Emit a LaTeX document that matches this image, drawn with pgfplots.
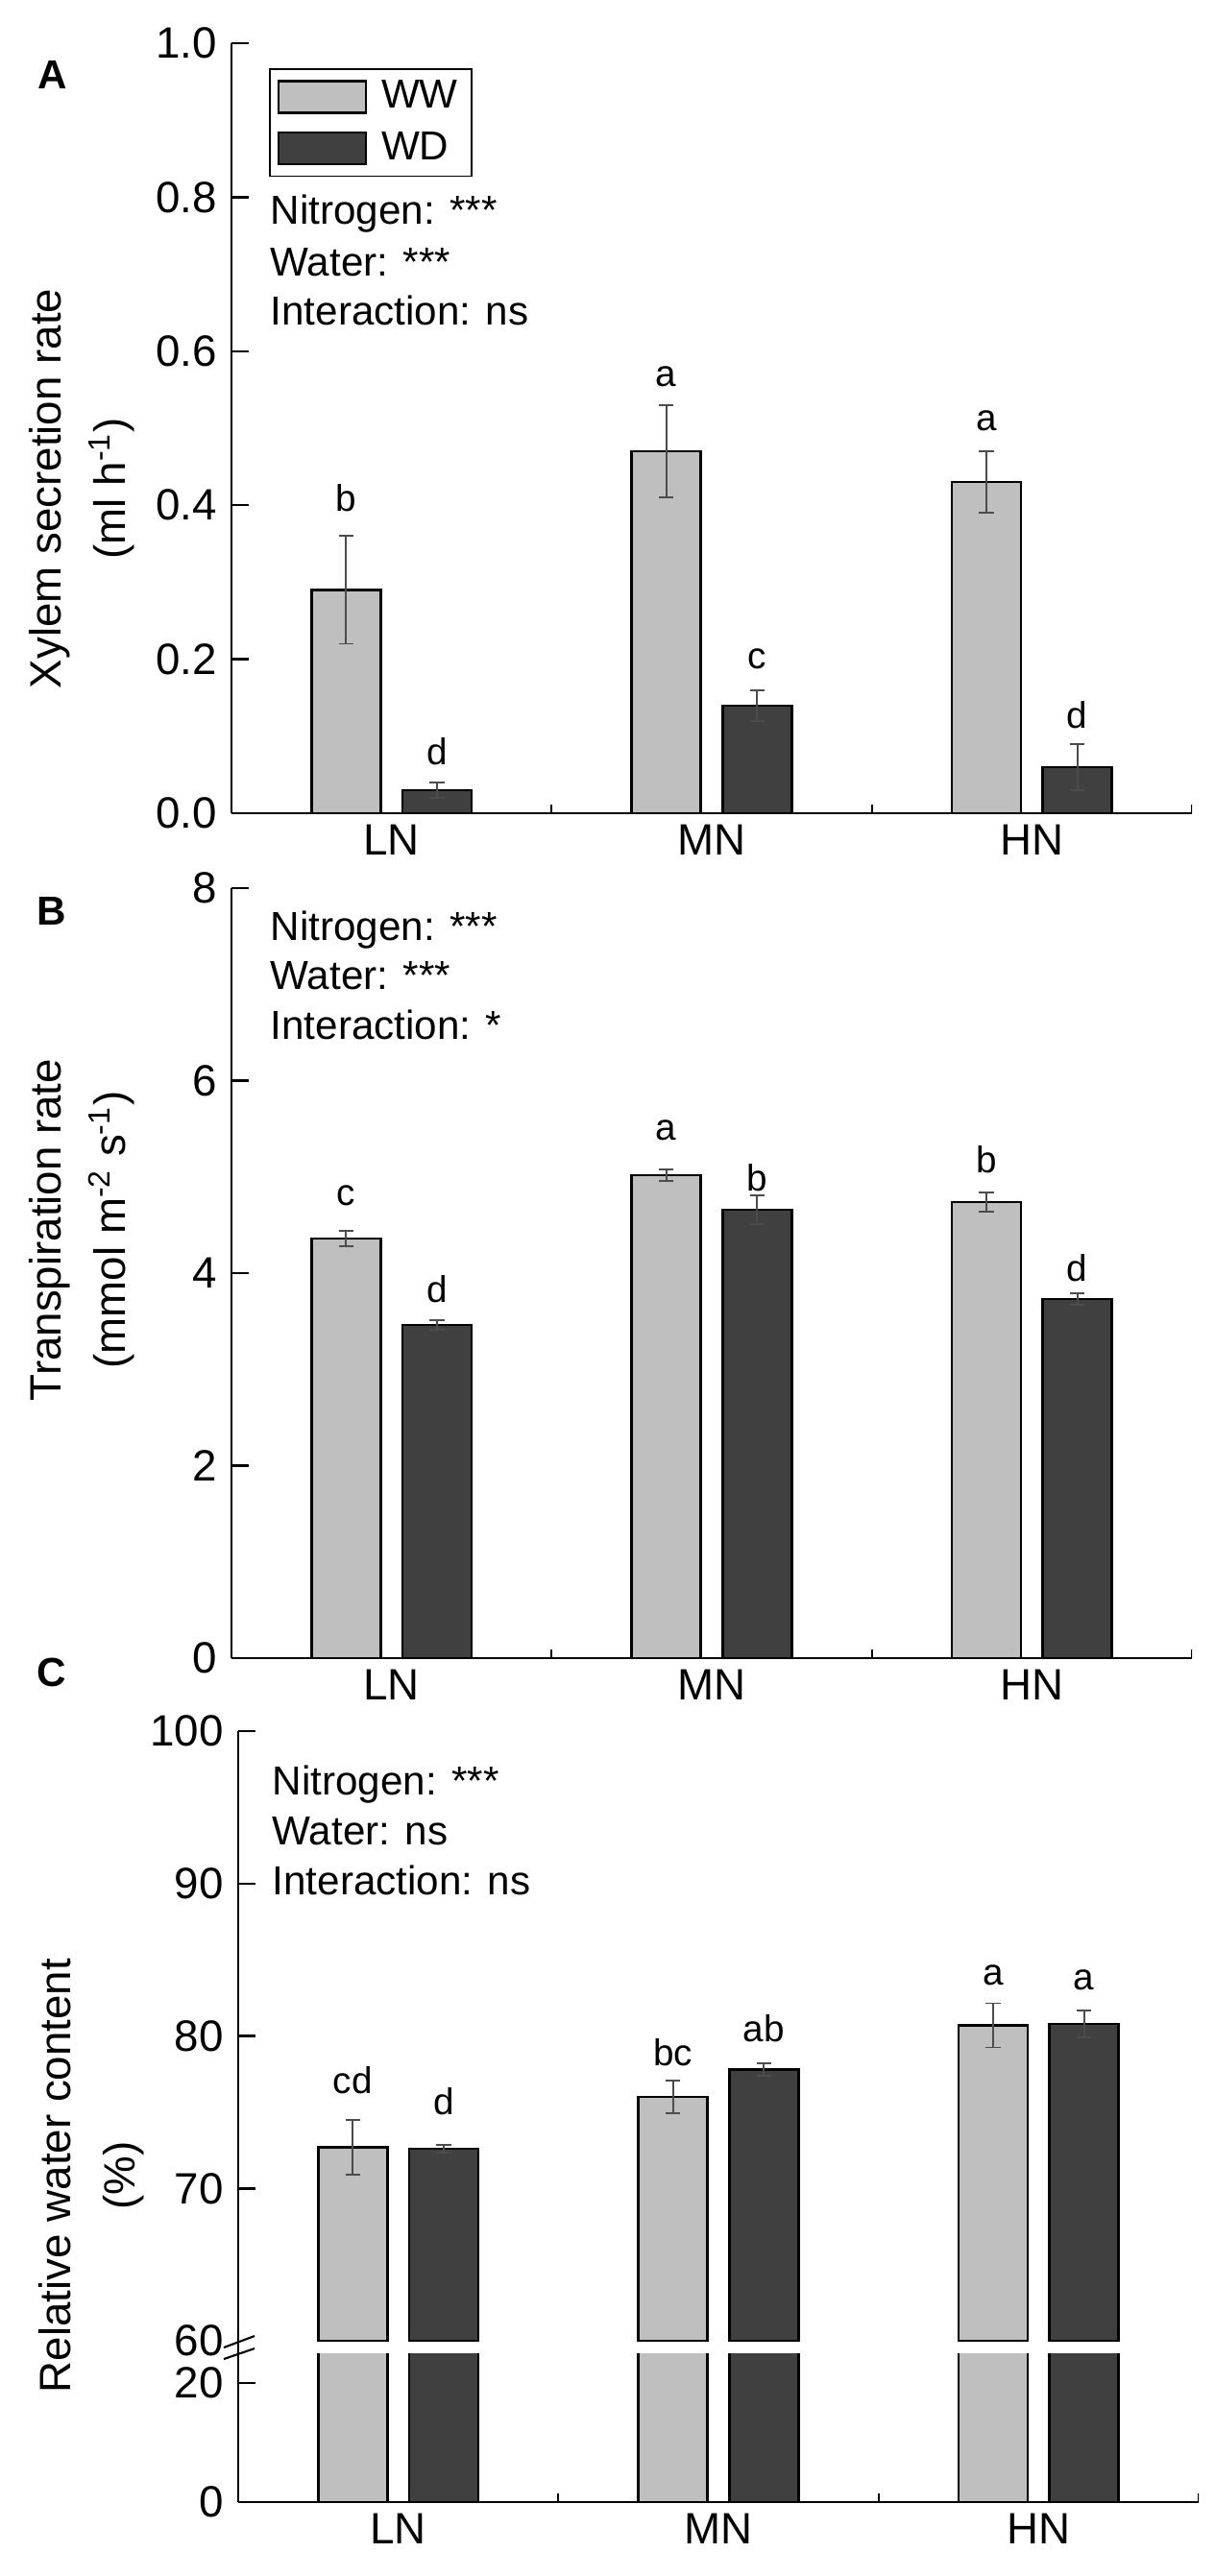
\documentclass[border=0pt]{standalone}
\usepackage{pgfplots}
\pgfplotsset{compat=1.18}
\usepackage{pgfplotstable}
\usepackage{fontspec}
\setmainfont{Liberation Sans}
\definecolor{ww}{HTML}{BFBFBF}
\definecolor{wd}{HTML}{404040}

\pgfplotstableread{
x y e
1 0.29 0.07
2 0.47 0.06
3 0.43 0.04
}\AWW
\pgfplotstableread{
x y e
1 0.03 0.01
2 0.14 0.02
3 0.06 0.03
}\AWD
\pgfplotstableread{
x y e
1 4.36 0.08
2 5.02 0.06
3 4.74 0.10
}\BWW
\pgfplotstableread{
x y e
1 3.46 0.05
2 4.66 0.15
3 3.73 0.06
}\BWD
\pgfplotstableread{
x y e
1 72.7 1.8
2 76.0 1.07
3 80.7 1.45
}\CWW
\pgfplotstableread{
x y e
1 72.6 0.25
2 77.8 0.4
3 80.8 0.88
}\CWD

\tikzset{xtk/.style={line width=0.6pt}}
\pgfplotsset{
  panel/.style={
    scale only axis, width=100mm,
    xmin=0.5, xmax=3.5,
    axis x line*=bottom, axis y line*=left,
    axis line style={-, line width=0.8pt},
    tick align=inside, major tick length=1.8mm,
    tick style={line width=0.7pt, black},
    xtick={1,2,3}, xticklabels={LN,MN,HN}, xtick style={draw=none},
    tick label style={font=\fontsize{13}{15}\selectfont},
    yticklabel style={xshift=-0.3mm},
    /pgf/number format/assume math mode=true,
    anchor=south west,
  },
  wwbar/.style={ybar, bar width=7.2mm, bar shift=0pt, fill=ww, draw=black, line width=0.7pt},
  wdbar/.style={ybar, bar width=7.2mm, bar shift=0pt, fill=wd, draw=black, line width=0.7pt},
  eb/.style={error bars/.cd, y dir=both, y explicit,
    error bar style={line width=0.5pt, black!70},
    error mark options={rotate=90, mark size=2.2pt, line width=0.5pt, black!70}},
}
\newcommand{\lt}{\fontsize{11}{13}\selectfont}
\newcommand{\at}{\fontsize{12}{14}\selectfont}

\begin{document}
\begin{tikzpicture}
\useasboundingbox (0,0) rectangle (126.5mm,-268.3mm);

% ---------------- Panel A
\begin{axis}[panel, at={(24.1mm,-84.7mm)}, height=80.2mm,
  ymin=0, ymax=1, ytick={0,0.2,0.4,0.6,0.8,1.0},
  yticklabel style={/pgf/number format/.cd, fixed, fixed zerofill, precision=1},
  legend style={at={(0.039,0.9676)}, anchor=north west, draw=black, line width=0.5pt,
    font=\at, inner xsep=0.8mm, inner ysep=0.6mm, row sep=0.7mm,
    nodes={inner sep=0.6mm}},
  legend cell align=left,
  legend image code/.code={\draw[#1] (0mm,-1.65mm) rectangle (9.1mm,1.65mm); \path[draw=none, fill=none] (9.1mm,0mm) rectangle (10.1mm,0.1mm);},
]
\addplot[wwbar, eb] table[x expr=\thisrow{x}-0.142, y=y, y error=e] {\AWW};
\addlegendentry{WW}
\addplot[wdbar, eb] table[x expr=\thisrow{x}+0.142, y=y, y error=e] {\AWD};
\addlegendentry{WD}
\node[font=\lt] at (axis cs:0.858,0.41) {b};
\node[font=\lt] at (axis cs:1.142,0.08) {d};
\node[font=\lt] at (axis cs:1.858,0.567) {a};
\node[font=\lt] at (axis cs:2.142,0.20) {c};
\node[font=\lt] at (axis cs:2.858,0.51) {a};
\node[font=\lt] at (axis cs:3.142,0.128) {d};
\draw[xtk] (axis cs:1.5,0) -- ++(0pt,0.9mm);
\draw[xtk] (axis cs:2.5,0) -- ++(0pt,0.9mm);
\draw[xtk] (axis cs:3.5,0) -- ++(0pt,0.9mm);
\end{axis}

% ---------------- Panel B
\begin{axis}[panel, at={(24.1mm,-172.7mm)}, height=80.2mm,
  ymin=0, ymax=8, ytick={0,2,4,6,8},
]
\addplot[wwbar, eb] table[x expr=\thisrow{x}-0.142, y=y, y error=e] {\BWW};
\addplot[wdbar, eb] table[x expr=\thisrow{x}+0.142, y=y, y error=e] {\BWD};
\node[font=\lt] at (axis cs:0.858,4.81) {c};
\node[font=\lt] at (axis cs:1.142,3.83) {d};
\node[font=\lt] at (axis cs:1.858,5.48) {a};
\node[font=\lt] at (axis cs:2.142,4.99) {b};
\node[font=\lt] at (axis cs:2.858,5.18) {b};
\node[font=\lt] at (axis cs:3.142,4.05) {d};
\draw[xtk] (axis cs:1.5,0) -- ++(0pt,0.9mm);
\draw[xtk] (axis cs:2.5,0) -- ++(0pt,0.9mm);
\draw[xtk] (axis cs:3.5,0) -- ++(0pt,0.9mm);
\end{axis}

% ---------------- Panel C upper
\begin{axis}[panel, at={(24.8mm,-243.8mm)}, height=63.5mm,
  ymin=60, ymax=100, ytick={70,80,90,100},
  extra y ticks={60}, extra y tick style={major tick length=0pt},
  axis x line=none, axis line style={-, line width=0.8pt},
]
\addplot[wwbar, eb] table[x expr=\thisrow{x}-0.142, y=y, y error=e] {\CWW};
\addplot[wdbar, eb] table[x expr=\thisrow{x}+0.142, y=y, y error=e] {\CWD};
\node[font=\lt] at (axis cs:0.858,77.1) {cd};
\node[font=\lt] at (axis cs:1.142,75.7) {d};
\node[font=\lt] at (axis cs:1.858,78.9) {bc};
\node[font=\lt] at (axis cs:2.142,80.5) {ab};
\node[font=\lt] at (axis cs:2.858,84.0) {a};
\node[font=\lt] at (axis cs:3.142,83.7) {a};
\end{axis}

% ---------------- Panel C lower
\begin{axis}[panel, at={(24.8mm,-260.6mm)}, height=15.5mm,
  ymin=0, ymax=25, ytick={0,20},
]
\addplot[wwbar] table[x expr=\thisrow{x}-0.142, y=y] {\CWW};
\addplot[wdbar] table[x expr=\thisrow{x}+0.142, y=y] {\CWD};
\draw[xtk] (axis cs:1.5,0) -- ++(0pt,0.9mm);
\draw[xtk] (axis cs:2.5,0) -- ++(0pt,0.9mm);
\draw[xtk] (axis cs:3.5,0) -- ++(0pt,0.9mm);
\end{axis}

% axis break
\draw[line width=0.8pt] (24.8mm,-245.2mm) -- (24.8mm,-243.7mm);
\draw[line width=0.6pt] (23.3mm,-244.5mm) -- (26.5mm,-243.3mm);
\draw[line width=0.6pt] (23.3mm,-245.7mm) -- (26.5mm,-244.6mm);

% annotations
\begin{scope}[every node/.style={font=\at, anchor=base west, inner sep=0pt}]
\node at (28.1mm,-23.3mm) {Nitrogen: ***};
\node at (28.1mm,-28.7mm) {Water: ***};
\node at (28.1mm,-33.8mm) {Interaction: ns};
\node at (28.1mm,-97.9mm) {Nitrogen: ***};
\node at (28.1mm,-103.0mm) {Water: ***};
\node at (28.1mm,-108.2mm) {Interaction: *};
\node at (28.3mm,-186.9mm) {Nitrogen: ***};
\node at (28.3mm,-192.1mm) {Water: ns};
\node at (28.3mm,-197.3mm) {Interaction: ns};
\end{scope}

% y labels
\node[rotate=90, align=center, font=\fontsize{13}{19}\selectfont] at (8.5mm,-50.9mm) {Xylem secretion rate\\(ml h\textsuperscript{-1})};
\node[rotate=90, align=center, font=\fontsize{13}{19}\selectfont] at (8.5mm,-128.1mm) {Transpiration rate\\(mmol m\textsuperscript{-2} s\textsuperscript{-1})};
\node[rotate=90, align=center, font=\fontsize{13}{19}\selectfont] at (9.5mm,-226.6mm) {Relative water content\\(\%)};

% panel letters
\node[font=\bfseries\fontsize{12}{14}\selectfont] at (5.5mm,-7.75mm) {A};
\node[font=\bfseries\fontsize{12}{14}\selectfont] at (5.35mm,-94.85mm) {B};
\node[font=\bfseries\fontsize{12}{14}\selectfont] at (5.35mm,-174.2mm) {C};
\end{tikzpicture}
\end{document}
